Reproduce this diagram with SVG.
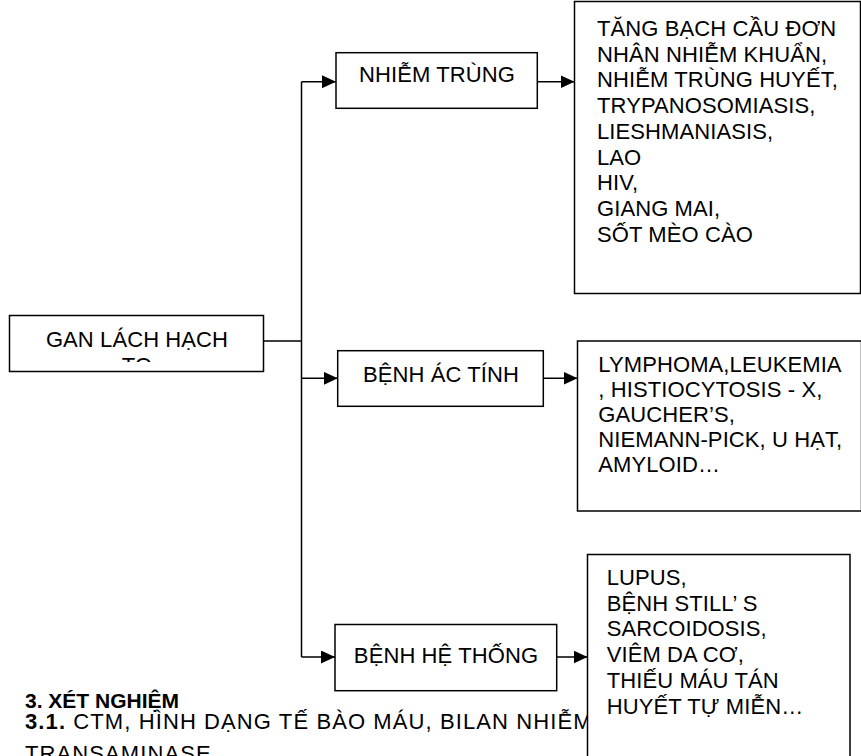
<svg xmlns="http://www.w3.org/2000/svg" width="861" height="756" viewBox="0 0 861 756">
<style>
.box{fill:#fff;stroke:#000;stroke-width:1.5}
.t{font-family:"Liberation Sans",Arial,sans-serif;font-size:22px;fill:#000;letter-spacing:0.1px}
.c{text-anchor:middle}
.b{font-family:"Liberation Sans",Arial,sans-serif;font-size:21px;fill:#000}
.body{font-size:22px;letter-spacing:1.1px}
.bold{font-weight:bold}
.ln{stroke:#000;stroke-width:1.5;fill:none}
</style>
<defs>
<marker id="ah" markerWidth="14" markerHeight="13" refX="14" refY="6.5" orient="auto" markerUnits="userSpaceOnUse">
<path d="M0,0 L14,6.5 L0,13 Z" fill="#000"/>
</marker>
<clipPath id="gclip"><rect x="9.5" y="315.5" width="254" height="46.5"/></clipPath>
</defs>

<g id="bottom-text">
<text class="b bold" x="25" y="707.5">3. XÉT NGHIỆM</text>
<text class="b body" x="25" y="729"><tspan class="bold">3.1.</tspan> CTM, HÌNH DẠNG TẾ BÀO MÁU, BILAN NHIỄM</text>
<text class="b body" x="25" y="761">TRANSAMINASE</text>
</g>

<g id="connectors">
<path class="ln" d="M263.5,341 H301.5 M301.5,81.7 V657"/>
<path class="ln" d="M301.5,81.7 H336" marker-end="url(#ah)"/>
<path class="ln" d="M301.5,378.3 H337.7" marker-end="url(#ah)"/>
<path class="ln" d="M301.5,657 H335" marker-end="url(#ah)"/>
<path class="ln" d="M537.3,81.7 H574.5" marker-end="url(#ah)"/>
<path class="ln" d="M543.3,378.3 H577.5" marker-end="url(#ah)"/>
<path class="ln" d="M556.7,657 H587.5" marker-end="url(#ah)"/>
</g>

<g id="gan">
<rect class="box" x="9.5" y="315.5" width="254" height="56"/>
<g clip-path="url(#gclip)">
<text class="t c" x="137" y="346.7">GAN LÁCH HẠCH</text>
<text class="t c" x="137" y="373">TO</text>
</g>
</g>

<g id="nhiem-trung">
<rect class="box" x="336" y="52.7" width="201.3" height="55.6"/>
<text class="t c" x="437" y="82.3">NHIỄM TRÙNG</text>
</g>

<g id="ac-tinh">
<rect class="box" x="337.7" y="350.7" width="205.6" height="55.6"/>
<text class="t c" x="441" y="381.7">BỆNH ÁC TÍNH</text>
</g>

<g id="he-thong">
<rect class="box" x="335" y="624.5" width="221.7" height="66.2"/>
<text class="t c" x="446" y="663">BỆNH HỆ THỐNG</text>
</g>

<g id="list-nhiem-trung">
<rect class="box" x="574.5" y="1.5" width="286" height="292"/>
<text class="t" x="597">
<tspan x="597" y="36">TĂNG BẠCH CẦU ĐƠN</tspan>
<tspan x="597" y="61.7">NHÂN NHIỄM KHUẨN,</tspan>
<tspan x="597" y="87.4">NHIỄM TRÙNG  HUYẾT,</tspan>
<tspan x="597" y="113.1">TRYPANOSOMIASIS,</tspan>
<tspan x="597" y="138.8">LIESHMANIASIS,</tspan>
<tspan x="597" y="164.5">LAO</tspan>
<tspan x="597" y="190.2">HIV,</tspan>
<tspan x="597" y="215.9">GIANG MAI,</tspan>
<tspan x="597" y="241.6">SỐT MÈO CÀO</tspan>
</text>
</g>

<g id="list-ac-tinh">
<rect class="box" x="577.5" y="341" width="284" height="170"/>
<text class="t" x="598.3">
<tspan x="598.3" y="371.7">LYMPHOMA,LEUKEMIA</tspan>
<tspan x="598.3" y="396.7">, HISTIOCYTOSIS - X,</tspan>
<tspan x="598.3" y="421.7">GAUCHER’S,</tspan>
<tspan x="598.3" y="446.7">NIEMANN-PICK, U HẠT,</tspan>
<tspan x="598.3" y="471.7">AMYLOID…</tspan>
</text>
</g>

<g id="list-he-thong">
<rect class="box" x="587.5" y="554.5" width="262.5" height="210"/>
<text class="t" x="606.7">
<tspan x="606.7" y="585">LUPUS,</tspan>
<tspan x="606.7" y="610.7">BỆNH STILL’ S</tspan>
<tspan x="606.7" y="636.4">SARCOIDOSIS,</tspan>
<tspan x="606.7" y="662.1">VIÊM DA CƠ,</tspan>
<tspan x="606.7" y="687.8">THIẾU MÁU TÁN</tspan>
<tspan x="606.7" y="713.5">HUYẾT TỰ MIỄN…</tspan>
</text>
</g>
</svg>
